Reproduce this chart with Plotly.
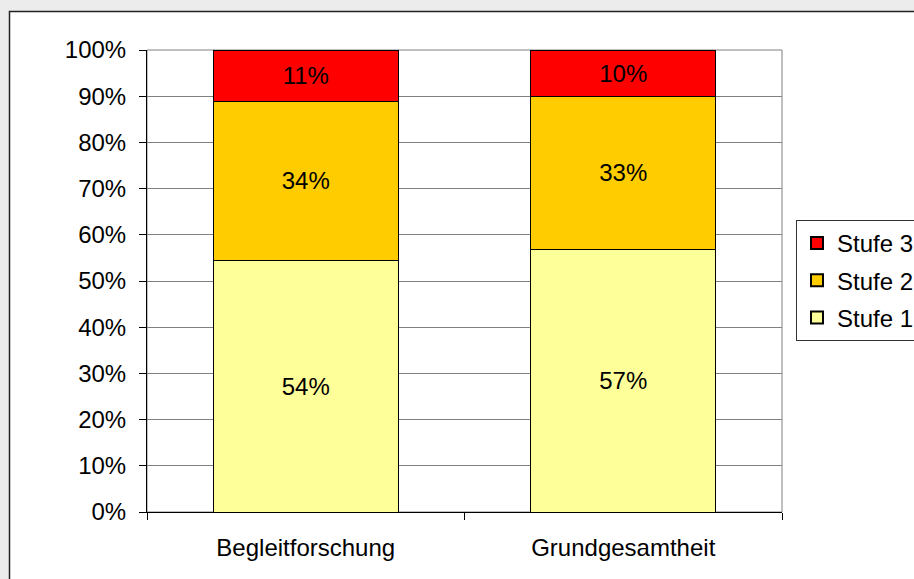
import plotly.graph_objects as go

categories = ["Begleitforschung", "Grundgesamtheit"]
stufe1 = [54.4, 56.9]
stufe2 = [34.5, 33.0]
stufe3 = [11.1, 10.1]
labels1 = ["54%", "57%"]
labels2 = ["34%", "33%"]
labels3 = ["11%", "10%"]
y_ticks = [0, 10, 20, 30, 40, 50, 60, 70, 80, 90, 100]
y_tick_labels = [f"{v}%" for v in y_ticks]

W, H = 914, 579
FONT = "Liberation Sans, Arial, sans-serif"
FS = 24

def px(x):
    return x / W

def py(y):
    return 1 - y / H

fig = go.Figure()
series = [
    ("Stufe 1", stufe1, labels1, "#FFFF99", 3),
    ("Stufe 2", stufe2, labels2, "#FFCC00", 2),
    ("Stufe 3", stufe3, labels3, "#FF0000", 1),
]
for name, vals, labs, col, rank in series:
    fig.add_trace(go.Bar(
        name=name, x=categories, y=vals, text=labs,
        texttemplate="%{text}", textposition="inside",
        insidetextanchor="middle", textangle=0,
        textfont=dict(family=FONT, size=FS, color="black"),
        marker=dict(color=col, line=dict(color="black", width=1)),
        width=0.583, legendgroup=name, legendrank=rank,
    ))

fig.update_layout(
    width=W, height=H,
    margin=dict(l=0, r=0, t=0, b=0, autoexpand=False),
    paper_bgcolor="#ECECEC",
    plot_bgcolor="white",
    barmode="stack",
    font=dict(family=FONT, size=FS, color="black"),
    showlegend=True,
    legend=dict(
        x=px(796), y=py(220), xanchor="left", yanchor="top",
        bgcolor="white", bordercolor="#333333", borderwidth=1,
        font=dict(family=FONT, size=FS, color="black"),
        traceorder="grouped", itemsizing="constant",
        tracegroupgap=3,
    ),
    xaxis=dict(
        domain=[px(147), px(782)],
        showline=True, linecolor="black", linewidth=1,
        ticks="outside", ticklen=7, tickcolor="black",
        tickson="boundaries", showgrid=False,
        ticklabelstandoff=14, automargin=False,
        tickfont=dict(family=FONT, size=FS),
    ),
    yaxis=dict(
        domain=[py(512), py(50)],
        range=[0, 100],
        tickvals=y_ticks, ticktext=y_tick_labels,
        showline=True, linecolor="black", linewidth=1,
        ticks="outside", ticklen=7, tickcolor="black",
        showgrid=True, gridcolor="#808080", gridwidth=1,
        zeroline=False, automargin=False,
        ticklabelstandoff=8,
        tickfont=dict(family=FONT, size=FS),
    ),
    shapes=[
        dict(type="rect", xref="paper", yref="paper",
             x0=px(9.5), x1=1.02, y0=-0.02, y1=py(11.5),
             fillcolor="white", line=dict(color="#222222", width=1.5),
             layer="below"),
        dict(type="rect", xref="paper", yref="paper",
             x0=px(147), x1=px(782), y0=py(512), y1=py(50),
             fillcolor="rgba(0,0,0,0)", line=dict(color="#808080", width=1),
             layer="below"),
    ],
)

fig.write_html("out.html", config={"displayModeBar": False},
               post_script="document.body.style.margin='0';")
